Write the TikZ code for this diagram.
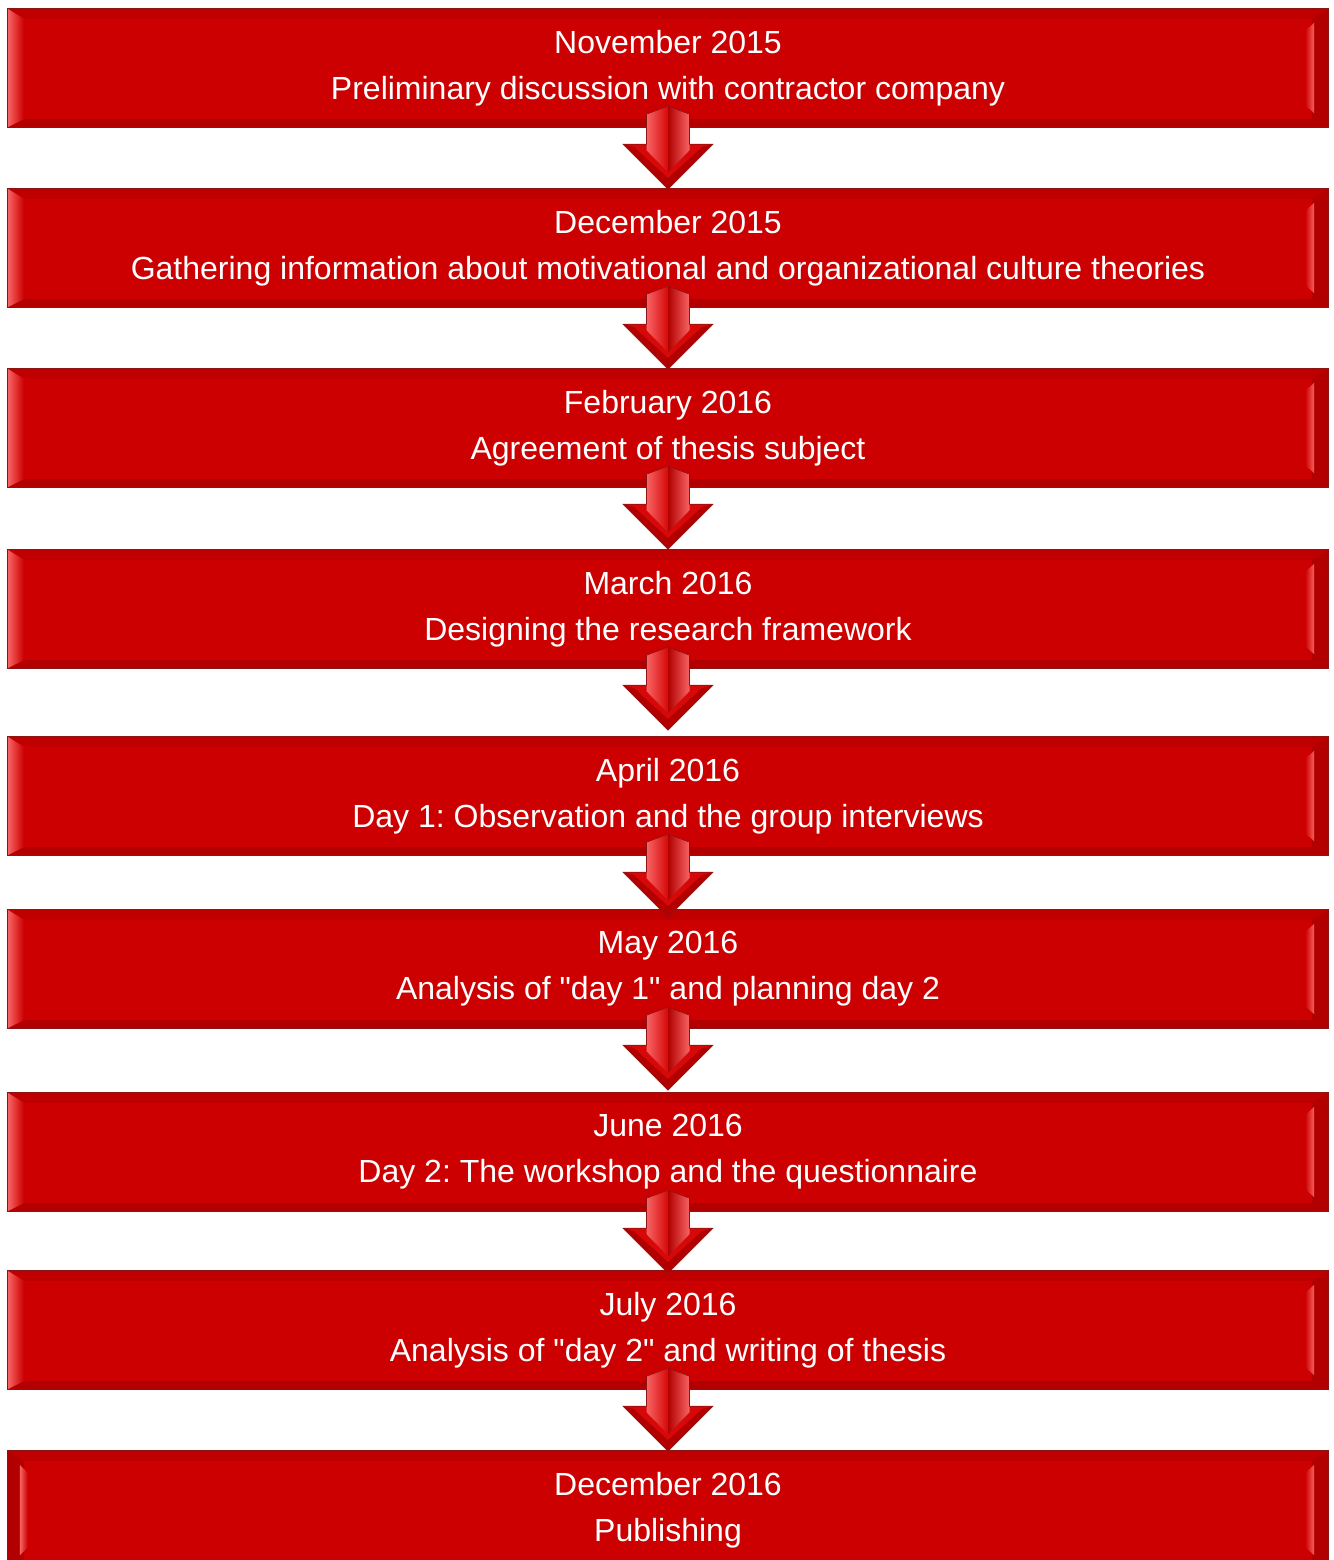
\documentclass[tikz,border=0pt]{standalone}
\usepackage{fontspec}
\setmainfont{Liberation Sans}
\usetikzlibrary{calc}
\frenchspacing
\definecolor{boxred}{RGB}{204,0,0}
\definecolor{edgered}{RGB}{140,20,20}
\definecolor{lightred}{RGB}{248,100,100}
\definecolor{darkred}{RGB}{178,0,0}
\definecolor{topred}{RGB}{192,0,0}
\definecolor{arrowred}{RGB}{214,8,8}
\tikzset{
  stepbox/.style={rectangle, fill=boxred, minimum width=1320pt, minimum height=118pt,
    inner sep=0pt, text=white, align=center, font=\fontsize{32}{46}\selectfont},
  outline/.style={draw=edgered, line width=1.2pt},
}
\newcommand{\bevelbox}[1]{%
  \fill[topred] (#1.north west) -- (#1.north east) -- ($(#1.north east)+(-16,-10)$) -- ($(#1.north west)+(16,-10)$) -- cycle;
  \fill[darkred] (#1.south west) -- (#1.south east) -- ($(#1.south east)+(-16,8)$) -- ($(#1.south west)+(16,8)$) -- cycle;
  \shade[left color=lightred, right color=boxred] (#1.north west) -- ($(#1.north west)+(16,-10)$) -- ($(#1.south west)+(16,8)$) -- (#1.south west) -- cycle;
  \fill[darkred] (#1.north east) -- ($(#1.north east)+(-16,-10)$) -- ($(#1.south east)+(-16,8)$) -- (#1.south east) -- cycle;
  \shade[left color=boxred, right color=lightred] ($(#1.north east)+(-23,-22)$) -- ($(#1.north east)+(-14,-14)$) -- ($(#1.south east)+(-14,14)$) -- ($(#1.south east)+(-23,22)$) -- cycle;
  \draw[outline] (#1.north west) rectangle (#1.south east);
}
\newcommand{\finalbox}[1]{%
  \fill[topred] (#1.north west) -- (#1.north east) -- ($(#1.north east)+(-16,-10)$) -- ($(#1.north west)+(16,-10)$) -- cycle;
  \fill[darkred] (#1.north west) -- ($(#1.north west)+(16,-10)$) -- ($(#1.south west)+(16,8)$) -- (#1.south west) -- cycle;
  \shade[left color=lightred, right color=boxred] ($(#1.north west)+(12,-14)$) -- ($(#1.north west)+(20,-22)$) -- ($(#1.south west)+(20,22)$) -- ($(#1.south west)+(12,14)$) -- cycle;
  \fill[darkred] (#1.north east) -- ($(#1.north east)+(-16,-10)$) -- ($(#1.south east)+(-16,8)$) -- (#1.south east) -- cycle;
  \shade[left color=boxred, right color=lightred] ($(#1.north east)+(-23,-22)$) -- ($(#1.north east)+(-14,-14)$) -- ($(#1.south east)+(-14,14)$) -- ($(#1.south east)+(-23,22)$) -- cycle;
  \draw[outline] (#1.north west) rectangle (#1.south east);
}
% down arrow from box #1 into box #2
\newcommand{\flowarrow}[2]{%
  \coordinate (#1s) at ($(#1.south)+(0,21)$);
  \coordinate (#1t) at ($(#1s)+(0,-83)$);
  \fill[arrowred] ($(#1s)+(-21.5,-8)$) -- (#1s) -- ($(#1s)+(21.5,-8)$) -- ($(#1s)+(21.5,-38)$) -- ($(#1s)+(45,-38)$) -- (#1t) -- ($(#1s)+(-45,-38)$) -- ($(#1s)+(-21.5,-38)$) -- cycle;
  \fill[darkred] ($(#1s)+(-45,-38)$) -- ($(#1s)+(-34,-41)$) -- ($(#1s)+(0,-72)$) -- ($(#1s)+(34,-41)$) -- ($(#1s)+(45,-38)$) -- (#1t) -- cycle;
  \shade[left color=lightred, right color=arrowred] ($(#1s)+(-21.5,-8)$) -- (#1s) -- ($(#1s)+(0,-66)$) -- ($(#1s)+(-21.5,-44)$) -- cycle;
  \shade[left color=darkred, right color=lightred] (#1s) -- ($(#1s)+(21.5,-8)$) -- ($(#1s)+(21.5,-44)$) -- ($(#1s)+(0,-66)$) -- cycle;
  \draw[edgered, line width=0.6pt] ($(#1s)+(-21.5,-8)$) -- (#1s) -- ($(#1s)+(21.5,-8)$) -- ($(#1s)+(21.5,-38)$) -- ($(#1s)+(45,-38)$) -- (#1t) -- ($(#1s)+(-45,-38)$) -- ($(#1s)+(-21.5,-38)$) -- cycle;
}
\begin{document}
\begin{tikzpicture}[x=1pt, y=1pt]
\useasboundingbox (0,0) rectangle (1333,-1560);
\clip (0,0) rectangle (1333,-1560);
\node[stepbox] (b1) at (668,-68) {November 2015\\Preliminary discussion with contractor company};
\node[stepbox] (b2) at (668,-248) {December 2015\\Gathering information about motivational and organizational culture theories};
\node[stepbox] (b3) at (668,-428) {February 2016\\Agreement of thesis subject};
\node[stepbox] (b4) at (668,-609) {March 2016\\Designing the research framework};
\node[stepbox] (b5) at (668,-796) {April 2016\\Day 1: Observation and the group interviews};
\node[stepbox] (b6) at (668,-969) {May 2016\\Analysis of \textquotedbl day 1\textquotedbl{} and planning day 2};
\node[stepbox] (b7) at (668,-1152) {June 2016\\Day 2: The workshop and the questionnaire};
\node[stepbox] (b8) at (668,-1330) {July 2016\\Analysis of \textquotedbl day 2\textquotedbl{} and writing of thesis};
\node[stepbox] (b9) at (668,-1510) {December 2016\\Publishing};
\bevelbox{b1}\bevelbox{b2}\bevelbox{b3}\bevelbox{b4}\bevelbox{b5}\bevelbox{b6}\bevelbox{b7}\bevelbox{b8}\finalbox{b9}
\flowarrow{b1}{b2}
\flowarrow{b2}{b3}
\flowarrow{b3}{b4}
\flowarrow{b4}{b5}
\flowarrow{b5}{b6}
\flowarrow{b6}{b7}
\flowarrow{b7}{b8}
\flowarrow{b8}{b9}
\end{tikzpicture}
\end{document}
